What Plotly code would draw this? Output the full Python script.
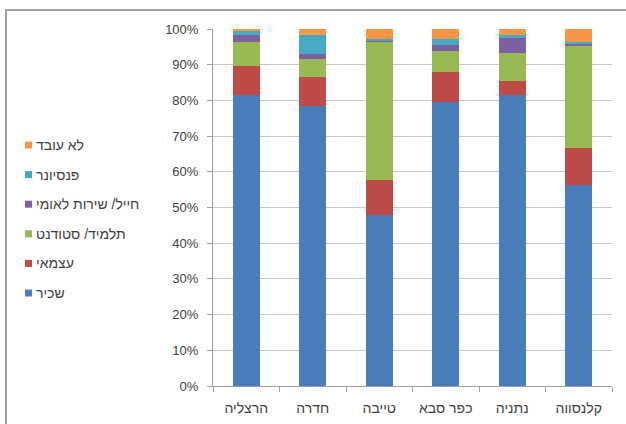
import plotly.graph_objects as go

# Cities along the x axis
cities = ["הרצליה", "חדרה", "טייבה", "כפר סבא", "נתניה", "קלנסווה"]

# Employment status shares (%) per city, stacked bottom to top
salaried = [81.5, 78.4, 48.0, 79.6, 81.5, 56.3]       # שכיר
self_employed = [8.1, 8.1, 9.6, 8.3, 3.8, 10.5]       # עצמאי
student = [6.8, 5.0, 39.0, 6.0, 7.9, 28.7]            # תלמיד/ סטודנט
soldier = [1.8, 1.4, 0.3, 1.6, 4.2, 0.5]              # חייל/ שירות לאומי
pensioner = [1.2, 5.4, 0.4, 1.7, 0.9, 0.4]            # פנסיונר
unemployed = [0.6, 1.7, 2.7, 2.8, 1.7, 3.6]           # לא עובד

series_names = ["שכיר", "עצמאי", "תלמיד/ סטודנט", "חייל/ שירות לאומי", "פנסיונר", "לא עובד"]
series_values = [salaried, self_employed, student, soldier, pensioner, unemployed]
series_colors = ["#4A7EBB", "#BE4B48", "#98B954", "#7D60A0", "#46AAC5", "#F79646"]

y_ticks = list(range(0, 101, 10))

W, H = 626, 424
ML, MR, MT, MB = 213, 14, 29, 38
PW, PH = W - ML - MR, H - MT - MB


def px_x(px):
    return (px - ML) / PW


def px_y(py):
    return (H - MB - py) / PH


FONT = "Liberation Sans, Arial, sans-serif"
TEXT = "#404040"

fig = go.Figure()
for name, vals, color in zip(series_names, series_values, series_colors):
    fig.add_trace(go.Bar(
        x=cities, y=vals, name=name,
        marker=dict(color=color, line=dict(width=0)),
        showlegend=False,
    ))

shapes = []
annotations = []

# Outer chart frame
shapes.append(dict(type="rect", xref="paper", yref="paper",
                   x0=px_x(6), x1=px_x(660), y0=px_y(460), y1=px_y(10),
                   line=dict(color="#a0a0a0", width=2), layer="below"))

# Legend: top entry is the top of the stack
legend_top, legend_step = 145, 29.6
for i, (name, color) in enumerate(zip(reversed(series_names), reversed(series_colors))):
    cy = legend_top + i * legend_step
    shapes.append(dict(type="rect", xref="paper", yref="paper",
                       x0=px_x(25), x1=px_x(32), y0=px_y(cy + 3.5), y1=px_y(cy - 3.5),
                       fillcolor=color, line=dict(width=0)))
    annotations.append(dict(xref="paper", yref="paper", x=px_x(34), y=px_y(cy),
                            xanchor="left", yanchor="middle", showarrow=False,
                            text=name, font=dict(family=FONT, size=14, color=TEXT)))

fig.update_layout(
    width=W, height=H,
    margin=dict(l=ML, r=MR, t=MT, b=MB, pad=0),
    barmode="stack", bargap=0.6,
    paper_bgcolor="white", plot_bgcolor="white",
    font=dict(family=FONT, size=13, color=TEXT),
    shapes=shapes, annotations=annotations,
    showlegend=False,
)
fig.update_xaxes(
    type="category", categoryorder="array", categoryarray=cities,
    showline=True, linecolor="#a0a0a0", linewidth=1,
    ticks="outside", tickson="boundaries", ticklen=5, tickcolor="#a0a0a0",
    tickfont=dict(family=FONT, size=14, color=TEXT),
    ticklabelstandoff=9, showgrid=False, automargin=False,
)
fig.update_yaxes(
    range=[0, 100], tickvals=y_ticks, ticktext=[f"{v}%" for v in y_ticks],
    showline=True, linecolor="#a0a0a0", linewidth=1,
    ticks="outside", ticklen=5, tickcolor="#a0a0a0",
    showgrid=True, gridcolor="#c8c8c8", gridwidth=1,
    tickfont=dict(family=FONT, size=13, color=TEXT),
    ticklabelstandoff=6, zeroline=False, automargin=False,
)

fig.write_html("out.html")
